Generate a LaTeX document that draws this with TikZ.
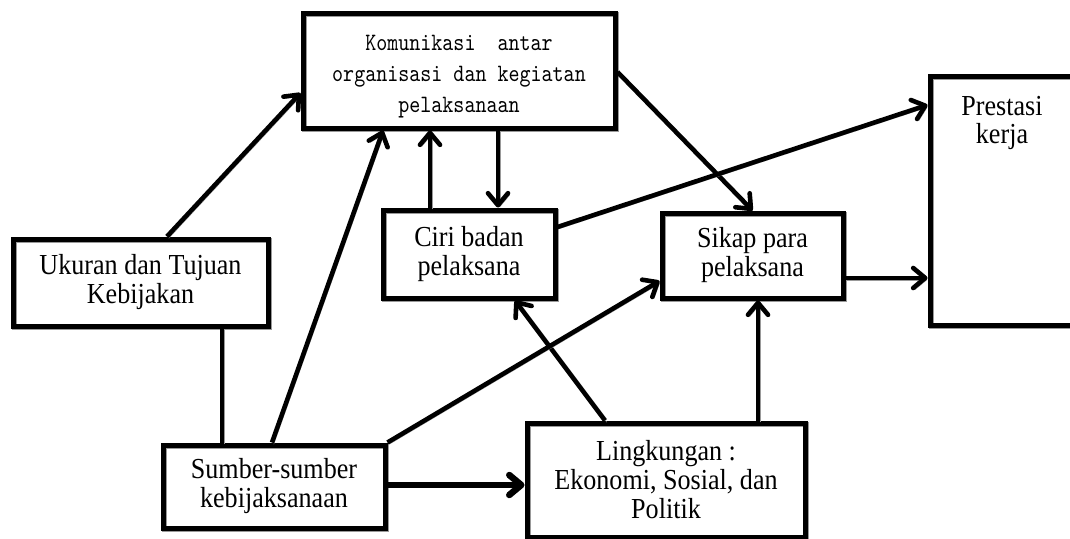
\documentclass[tikz,border=0pt]{standalone}
\usepackage{fontspec}
\setmainfont{Liberation Serif}[FakeStretch=0.9]
\newfontfamily\monof{lmmono10-regular}[Extension=.otf,FakeStretch=0.84]
\usetikzlibrary{arrows.meta,calc}
\begin{document}
\begin{tikzpicture}[x=1pt,y=-1pt,
  shadowed/.style={preaction={draw=black!40, transform canvas={shift={(1.8pt,-1.8pt)}}}},
  box/.style={draw, line width=5pt, inner sep=0pt, align=center,
     font=\fontsize{29}{29}\selectfont, shadowed},
  txt/.style={inner sep=0pt, align=center, font=\fontsize{29}{28}\selectfont},
  arr/.style={line width=4.6pt, -{Straight Barb[length=12pt,width=20pt,round]}, shadowed},
  ln/.style={line width=4.6pt, shadowed}
]
\useasboundingbox (0,0) rectangle (1070,538);
\clip (0,0) rectangle (1070,538);

\node[box, minimum width=312pt, minimum height=115pt,
      font=\monof\fontsize{25}{31}\selectfont] (kom) at (459,70.5) {};
\node[inner sep=0pt, align=center, font=\monof\fontsize{25}{31}\selectfont]
      (komtxt) at (459,77) {Komunikasi\ \ antar\\organisasi dan kegiatan\\pelaksanaan};
\node[box, minimum width=255pt, minimum height=87pt] (uku) at (140.5,282.5)
      {Ukuran dan Tujuan\\Kebijakan};
\node[box, minimum width=172pt, minimum height=88pt] (ciri) at (469,254)
      {Ciri badan\\pelaksana};
\node[box, minimum width=181pt, minimum height=85pt] (sikap) at (752.5,255.5)
      {Sikap para\\pelaksana};
\node[box, minimum width=144pt, minimum height=249pt] (pres) at (1002,200.5) {};
\node[txt, anchor=north] (prest) at (1002,96) {Prestasi\\kerja};
\node[box, minimum width=222pt, minimum height=83pt] (sumber) at (274,486.5)
      {Sumber-sumber\\kebijaksanaan};
\node[box, minimum width=278pt, minimum height=114pt] (ling) at (666,480)
      {Lingkungan :\\Ekonomi, Sosial, dan\\Politik};

% connectors
\draw[arr] ([xshift=26.5pt]uku.north) -- ([yshift=-22.5pt]kom.west);
\draw[arr] ([xshift=-2pt]sumber.north) -- ([xshift=-76pt]kom.south);
\draw[arr] ([xshift=-39pt]ciri.north) -- ([xshift=-39pt]ciri.north |- kom.south);
\draw[arr] ([xshift=29pt]ciri.north |- kom.south) -- ([xshift=29pt]ciri.north);
\draw[arr] ([yshift=-1.5pt]kom.east) -- (sikap.north);
\draw[arr] ([yshift=27pt]ciri.east) -- ([yshift=95.5pt]pres.west);
\draw[arr] ([yshift=-22.5pt]sikap.east) -- ([yshift=-22.5pt]sikap.east -| pres.west);
\draw[arr] ([xshift=-61pt]ling.north) -- ([xshift=46pt]ciri.south);
\draw[arr] ([xshift=92pt]ling.north) -- ([xshift=92pt]ling.north |- sikap.south);
\draw[arr] (sumber.north east) -- ([yshift=-25.5pt]sikap.west);
\draw[arr, line width=6.5pt] ([yshift=1.5pt]sumber.east) -- ([yshift=1.5pt]sumber.east -| ling.west);
\draw[ln] ([xshift=81.5pt]uku.south) -- ([xshift=81.5pt]uku.south |- sumber.north);
\end{tikzpicture}
\end{document}
